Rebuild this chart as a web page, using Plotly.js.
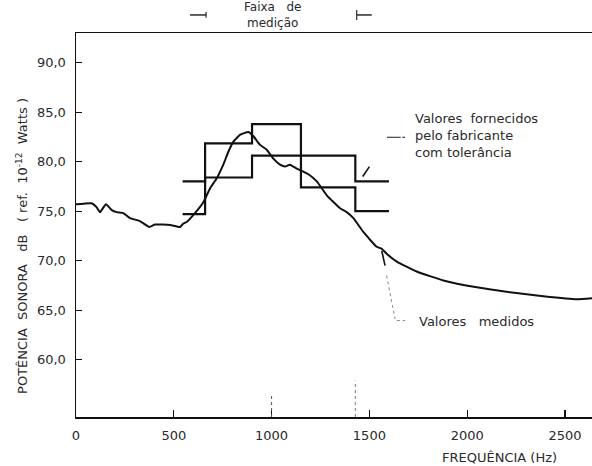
<!DOCTYPE html>
<html>
<head>
<meta charset="utf-8">
<script src="https://cdn.plot.ly/plotly-3.0.1.min.js"></script>
<style>html,body{margin:0;padding:0;background:#fff;}#chart{width:592px;height:466px;}</style>
</head>
<body>
<div id="chart"></div>
<script>
// Measured sound power curve ("Valores medidos")
const measuredFreq = [0, 4, 40, 80, 105, 123, 153, 183, 208, 242, 276, 327, 375, 404, 481, 532, 549, 566, 608, 651, 685, 719, 753, 779, 804, 838, 881, 906, 941, 975, 1009, 1043, 1069, 1094, 1128, 1162, 1190, 1231, 1282, 1350, 1384, 1418, 1469, 1537, 1563, 1588, 1640, 1742, 1878, 2049, 2219, 2389, 2560, 2638];
const measuredLevel = [75.7, 75.7, 75.75, 75.8, 75.4, 74.9, 75.7, 75.1, 74.9, 74.8, 74.3, 74.0, 73.4, 73.65, 73.6, 73.4, 73.75, 73.9, 74.8, 75.9, 77.3, 78.3, 79.7, 81.0, 82.0, 82.7, 83.0, 82.6, 81.7, 81.2, 80.3, 79.7, 79.5, 79.7, 79.3, 79.0, 78.7, 78.0, 76.6, 75.3, 74.9, 74.3, 72.9, 71.4, 71.2, 70.7, 69.9, 68.9, 68.0, 67.3, 66.8, 66.4, 66.1, 66.2];

// Manufacturer values with tolerance (step lines)
const upperFreq = [545, 660, 900, 1150, 1428, 1600];
const upperLevel = [78.0, 81.85, 83.8, 80.6, 78.0, 78.0];
const lowerFreq = [545, 660, 900, 1150, 1428, 1600];
const lowerLevel = [74.7, 78.4, 80.6, 77.4, 75.0, 75.0];

// Axis ticks
const xTicks = [0, 500, 1000, 1500, 2000, 2500];
const xTickText = ["0", "500", "1000", "1500", "2000", "2500"];
const yTicks = [60, 65, 70, 75, 80, 85, 90];
const yTickText = ["60,0", "65,0", "70,0", "75,0", "80,0", "85,0", "90,0"];

// Measurement range
const rangeStart = 665, rangeEnd = 1435;

const ink = '#111';
const txt = '#2a2a2a';
const fnt = 'DejaVu Sans';
const sp = '\u00a0';

const traces = [
  {x: measuredFreq, y: measuredLevel, mode: 'lines', line: {color: ink, width: 2, shape: 'spline', smoothing: 0.4}, hoverinfo: 'skip'},
  {x: upperFreq, y: upperLevel, mode: 'lines', line: {color: ink, width: 2.2, shape: 'hv'}, hoverinfo: 'skip'},
  {x: lowerFreq, y: lowerLevel, mode: 'lines', line: {color: ink, width: 2.2, shape: 'hv'}, hoverinfo: 'skip'}
];

const shapes = [
  // measurement range markers above plot
  {type: 'line', xref: 'x', yref: 'paper', x0: rangeStart - 82, x1: rangeStart, y0: 1.047, y1: 1.047, line: {color: txt, width: 1.5}},
  {type: 'line', xref: 'x', yref: 'paper', x0: rangeStart, x1: rangeStart, y0: 1.040, y1: 1.055, line: {color: txt, width: 1.2}},
  {type: 'line', xref: 'x', yref: 'paper', x0: rangeEnd, x1: rangeEnd + 77, y0: 1.047, y1: 1.047, line: {color: txt, width: 1.5}},
  {type: 'line', xref: 'x', yref: 'paper', x0: rangeEnd, x1: rangeEnd, y0: 1.034, y1: 1.060, line: {color: txt, width: 1.2}},
  // dashed reference marks at bottom
  {type: 'line', xref: 'x', yref: 'paper', x0: 1000, x1: 1000, y0: 0, y1: 0.055, line: {color: '#555', width: 1, dash: 'dot'}},
  {type: 'line', xref: 'x', yref: 'paper', x0: rangeEnd - 7, x1: rangeEnd - 7, y0: 0, y1: 0.095, line: {color: '#777', width: 1, dash: 'dot'}},
  // leader for manufacturer label
  {type: 'line', xref: 'x', yref: 'y', x0: 1590, x1: 1660, y0: 82.46, y1: 82.46, line: {color: '#444', width: 1.2}},
  {type: 'line', xref: 'x', yref: 'y', x0: 1668, x1: 1682, y0: 82.46, y1: 82.46, line: {color: '#444', width: 1.2}},
  {type: 'line', xref: 'x', yref: 'y', x0: 1466, x1: 1500, y0: 78.5, y1: 79.5, line: {color: ink, width: 1.6}},
  // leader for measured label
  {type: 'line', xref: 'x', yref: 'y', x0: 1563, x1: 1580, y0: 71.0, y1: 69.5, line: {color: ink, width: 1.6}},
  {type: 'line', xref: 'x', yref: 'y', x0: 1588, x1: 1631, y0: 68.5, y1: 64.1, line: {color: '#888', width: 1, dash: 'dot'}},
  {type: 'line', xref: 'x', yref: 'y', x0: 1640, x1: 1682, y0: 63.95, y1: 63.95, line: {color: '#888', width: 1, dash: 'dot'}}
];

const annotations = [
  {text: 'Faixa' + sp + sp + sp + 'de<br>medição', xref: 'x', yref: 'paper', x: 1007, y: 1.047, showarrow: false, font: {family: fnt, size: 12, color: txt}, xanchor: 'center', yanchor: 'middle', align: 'center'},
  {text: 'Valores' + sp + sp + 'fornecidos<br>pelo' + sp + 'fabricante<br>com' + sp + 'tolerância', xref: 'x', yref: 'y', x: 1723, y: 82.6, showarrow: false, font: {family: fnt, size: 13, color: txt}, xanchor: 'left', yanchor: 'middle', align: 'left'},
  {text: 'Valores' + sp + sp + sp + 'medidos', xref: 'x', yref: 'y', x: 1742, y: 63.84, showarrow: false, font: {family: fnt, size: 13, color: txt}, xanchor: 'left', yanchor: 'middle', align: 'left'},
  {text: 'FREQUÊNCIA' + sp + '(Hz)', xref: 'paper', yref: 'paper', x: 0.82, y: -0.105, showarrow: false, font: {family: fnt, size: 13, color: txt}, xanchor: 'center', yanchor: 'middle'},
  {text: 'POTÊNCIA' + sp + sp + 'SONORA' + sp + sp + sp + 'dB' + sp + sp + sp + '(' + sp + 'ref.' + sp + sp + '10<sup>-12</sup>' + sp + sp + 'Watts' + sp + ')', xref: 'paper', yref: 'paper', x: -0.105, y: 0.445, textangle: -90, showarrow: false, font: {family: fnt, size: 13, color: txt}, xanchor: 'center', yanchor: 'middle'}
];

const layout = {
  width: 592, height: 466,
  margin: {l: 76, r: 0, t: 33, b: 49, pad: 0},
  paper_bgcolor: '#fff', plot_bgcolor: '#fff',
  showlegend: false,
  xaxis: {range: [0, 2638], tickvals: xTicks, ticktext: xTickText, ticks: 'inside', ticklen: 7, tickwidth: 1.2, tickcolor: ink,
    showline: true, linecolor: ink, linewidth: 1.5, mirror: true, showgrid: false, zeroline: false,
    tickfont: {family: fnt, size: 13, color: txt}, ticklabelstandoff: 6, fixedrange: true},
  yaxis: {range: [54.2, 93], tickvals: yTicks, ticktext: yTickText, ticks: 'inside', ticklen: 6, tickwidth: 1.2, tickcolor: ink,
    showline: true, linecolor: ink, linewidth: 1.5, mirror: false, showgrid: false, zeroline: false,
    tickfont: {family: fnt, size: 13, color: txt}, ticklabelstandoff: 6, fixedrange: true},
  shapes: shapes,
  annotations: annotations
};

Plotly.newPlot('chart', traces, layout, {staticPlot: true, displayModeBar: false});
</script>
</body>
</html>
